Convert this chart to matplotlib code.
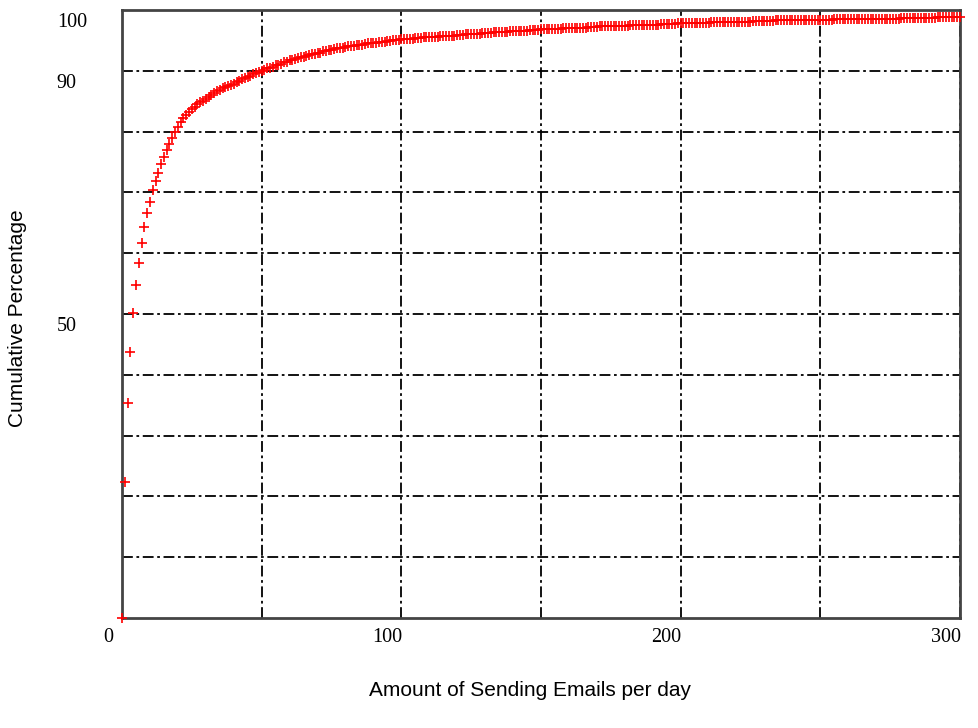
import matplotlib.pyplot as plt
from matplotlib.transforms import ScaledTranslation

# Datos: correos enviados por dia (x) y porcentaje acumulado (y)
emails_per_day = list(range(0, 301))
cumulative_pct = [
    0.0, 22.4, 35.3, 43.7, 50.1, 54.8, 58.4, 61.6, 64.3, 66.6,
    68.5, 70.4, 71.9, 73.2, 74.6, 75.8, 76.9, 78.0, 79.0, 79.9,
    80.8, 81.5, 82.2, 82.8, 83.3, 83.7, 84.1, 84.5, 84.8, 85.1,
    85.4, 85.7, 86.0, 86.3, 86.6, 86.9, 87.1, 87.3, 87.5, 87.7,
    87.9, 88.1, 88.4, 88.6, 88.8, 89.0, 89.2, 89.4, 89.6, 89.8,
    90.0, 90.2, 90.4, 90.5, 90.7, 90.9, 91.0, 91.2, 91.4, 91.5,
    91.7, 91.8, 91.9, 92.1, 92.2, 92.3, 92.5, 92.6, 92.7, 92.8,
    92.9, 93.0, 93.2, 93.3, 93.4, 93.5, 93.6, 93.7, 93.8, 93.8,
    93.9, 94.0, 94.1, 94.1, 94.2, 94.3, 94.3, 94.4, 94.5, 94.5,
    94.6, 94.6, 94.7, 94.8, 94.8, 94.9, 94.9, 95.0, 95.1, 95.1,
    95.2, 95.2, 95.2, 95.3, 95.3, 95.4, 95.4, 95.4, 95.5, 95.5,
    95.5, 95.6, 95.6, 95.6, 95.7, 95.7, 95.7, 95.8, 95.8, 95.8,
    95.9, 95.9, 95.9, 96.0, 96.0, 96.0, 96.1, 96.1, 96.1, 96.2,
    96.2, 96.2, 96.2, 96.3, 96.3, 96.3, 96.4, 96.4, 96.4, 96.5,
    96.5, 96.5, 96.5, 96.6, 96.6, 96.6, 96.7, 96.7, 96.7, 96.7,
    96.8, 96.8, 96.8, 96.8, 96.9, 96.9, 96.9, 96.9, 97.0, 97.0,
    97.0, 97.0, 97.1, 97.1, 97.1, 97.1, 97.1, 97.2, 97.2, 97.2,
    97.2, 97.3, 97.3, 97.3, 97.3, 97.3, 97.4, 97.4, 97.4, 97.4,
    97.4, 97.4, 97.5, 97.5, 97.5, 97.5, 97.5, 97.6, 97.6, 97.6,
    97.6, 97.6, 97.6, 97.7, 97.7, 97.7, 97.7, 97.7, 97.7, 97.8,
    97.8, 97.8, 97.8, 97.8, 97.8, 97.9, 97.9, 97.9, 97.9, 97.9,
    97.9, 98.0, 98.0, 98.0, 98.0, 98.0, 98.0, 98.0, 98.1, 98.1,
    98.1, 98.1, 98.1, 98.1, 98.1, 98.1, 98.2, 98.2, 98.2, 98.2,
    98.2, 98.2, 98.2, 98.2, 98.3, 98.3, 98.3, 98.3, 98.3, 98.3,
    98.3, 98.3, 98.3, 98.3, 98.4, 98.4, 98.4, 98.4, 98.4, 98.4,
    98.4, 98.4, 98.4, 98.4, 98.4, 98.5, 98.5, 98.5, 98.5, 98.5,
    98.5, 98.5, 98.5, 98.5, 98.5, 98.5, 98.6, 98.6, 98.6, 98.6,
    98.6, 98.6, 98.6, 98.6, 98.6, 98.6, 98.6, 98.6, 98.6, 98.7,
    98.7, 98.7, 98.7, 98.7, 98.7, 98.7, 98.7, 98.7, 98.7, 98.7,
    98.7, 98.7, 98.8, 98.8, 98.8, 98.8, 98.8, 98.8, 98.8, 98.8,
    98.8,
]

x_ticks = [0, 100, 200, 300]
y_ticks = [50, 90, 100]

fig = plt.figure(figsize=(9.79, 7.28), dpi=100)
ax = fig.add_axes([122 / 979, 1 - 618 / 728, 838 / 979, 608 / 728])

# Puntos de la curva
ax.plot(emails_per_day, cumulative_pct, linestyle="none", marker="+",
        markersize=7.5, markeredgewidth=1.2, color="red", clip_on=False, zorder=3)

ax.set_xlim(0, 300)
ax.set_ylim(0, 100)

# Rejilla punto-raya
ax.set_xticks(x_ticks)
ax.set_xticks(range(50, 300, 50), minor=True)
ax.set_yticks(y_ticks)
ax.set_yticks(range(10, 100, 10), minor=True)
ax.grid(True, which="both", color="black", linewidth=1.3,
        linestyle=(0, (6, 2, 1.5, 2)))
ax.set_axisbelow(True)

ax.tick_params(which="both", length=0)
ax.tick_params(axis="x", pad=7)
ax.tick_params(axis="y", pad=47)

for s in ax.spines.values():
    s.set_color("#444444")
    s.set_linewidth(2)

for lab in ax.get_xticklabels():
    lab.set_fontfamily("Liberation Serif")
    lab.set_fontsize(14.5)
    lab.set_transform(lab.get_transform() + ScaledTranslation(-0.14, 0, fig.dpi_scale_trans))

for lab in ax.get_yticklabels():
    lab.set_fontfamily("Liberation Serif")
    lab.set_fontsize(14.5)
    lab.set_horizontalalignment("left")
    lab.set_transform(lab.get_transform() + ScaledTranslation(0, -0.10, fig.dpi_scale_trans))

fig.text(530 / 979, 1 - 690 / 728, "Amount of Sending Emails per day",
         ha="center", va="center", fontsize=15, family="Liberation Sans")
fig.text(18 / 979, 1 - 318 / 728, "Cumulative Percentage", rotation=90,
         ha="center", va="center", fontsize=15, family="Liberation Sans")

fig.savefig("out.png", dpi=100)
